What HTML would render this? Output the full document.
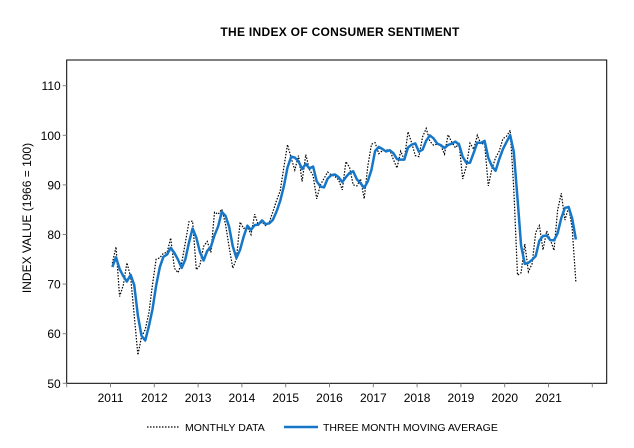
<!DOCTYPE html>
<html><head><meta charset="utf-8"><style>
body{margin:0;background:#fff;width:634px;height:443px;overflow:hidden;font-family:"Liberation Sans",Arial,sans-serif}
</style></head><body>
<svg id="chart" width="634" height="443" viewBox="0 0 634 443" font-family="Liberation Sans, Arial, sans-serif">
<text x="340" y="36" text-anchor="middle" font-size="12" font-weight="bold" letter-spacing="0.3">THE INDEX OF CONSUMER  SENTIMENT</text>
<text transform="translate(31,218) rotate(-90)" text-anchor="middle" font-size="12">INDEX VALUE  (1966 = 100)</text>
<rect x="66.7" y="60" width="540" height="323.3" fill="none" stroke="#000" stroke-width="1"/>
<g id="axes"></g>
<g id="series"></g>
<g>
<line x1="147" y1="427" x2="180" y2="427" stroke="#000" stroke-width="1.2" stroke-dasharray="1.5,1.5"/>
<text x="185" y="431" font-size="10.5">MONTHLY DATA</text>
<line x1="284" y1="427" x2="318" y2="427" stroke="#1677c8" stroke-width="2.5"/>
<text x="323" y="431" font-size="10.5">THREE MONTH MOVING AVERAGE</text>
</g>
</svg>
<script>
const yTicks=[50,60,70,80,90,100,110];
const years=[2011,2012,2013,2014,2015,2016,2017,2018,2019,2020,2021];
const priorMonths=[71.6,74.5];
const monthly=[74.2,77.5,67.5,69.8,74.3,71.5,63.7,55.7,59.4,60.8,64.1,69.9,
75.0,75.3,76.2,76.4,79.3,73.2,72.3,74.3,78.3,82.6,82.7,72.9,
73.8,77.6,78.6,76.4,84.5,84.1,85.1,82.1,77.5,73.2,75.1,82.5,
81.2,81.6,80.0,84.1,81.9,82.5,81.8,82.5,84.6,86.9,88.8,93.6,
98.1,95.4,93.0,95.9,90.7,96.1,93.1,91.9,87.2,90.0,91.3,92.6,
92.0,91.7,91.0,89.0,94.7,93.5,90.0,89.8,91.2,87.2,93.8,98.2,
98.5,96.3,96.9,97.0,97.1,95.1,93.4,96.8,95.1,100.7,98.5,95.9,
95.7,99.7,101.4,98.8,98.0,98.2,97.9,96.2,100.1,98.6,97.5,98.3,
91.2,93.8,98.4,97.2,100.0,98.2,98.4,89.8,93.2,95.5,96.8,99.3,
99.8,101.0,89.1,71.8,72.3,78.1,72.5,74.1,80.4,81.8,76.9,80.7,
79.0,76.8,84.9,88.3,82.9,85.5,81.2,70.3];
const startYear=2011;
const NS='http://www.w3.org/2000/svg';
const x0=66.7,xPerYear=43.8,yBottom=383.3,yPerUnit=4.96;
function xScale(t){return x0+(t-2010)*xPerYear;}
function yScale(v){return yBottom-(v-50)*yPerUnit;}
function mk(tag,attrs,parent){const e=document.createElementNS(NS,tag);for(const k in attrs)e.setAttribute(k,attrs[k]);parent.appendChild(e);return e;}
const axes=document.getElementById('axes');
yTicks.forEach(v=>{
  const y=yScale(v);
  const tk=mk('line',{x1:x0-4,x2:x0,y1:y,y2:y,stroke:'#808080'},axes);
  
  
  const t=mk('text',{x:x0-6,y:y+4.5,'text-anchor':'end','font-size':'12'},axes);
  t.textContent=v;
  
  
});
for(let yr=2010;yr<=2022;yr++){
  const x=xScale(yr);
  const tk=mk('line',{x1:x,x2:x,y1:yBottom,y2:yBottom+4,stroke:'#808080'},axes);
  
  
}
years.forEach(yr=>{
  const t=mk('text',{x:xScale(yr),y:402,'text-anchor':'middle','font-size':'12'},axes);
  t.textContent=yr;
  
  
});
const all=priorMonths.concat(monthly);
const avg=monthly.map((v,i)=>(all[i]+all[i+1]+all[i+2])/3);
function pts(arr){return arr.map((v,i)=>xScale(startYear+(i+0.5)/12).toFixed(1)+','+yScale(v).toFixed(1)).join(' ');}
const g=document.getElementById('series');
const m=mk('polyline',{points:pts(monthly),fill:'none',stroke:'#000','stroke-width':'1.2','stroke-dasharray':'1.5,1.5'},g);


const a=mk('polyline',{points:pts(avg),fill:'none',stroke:'#1677c8','stroke-width':'2.5','stroke-linejoin':'round'},g);


</script>
</body></html>
